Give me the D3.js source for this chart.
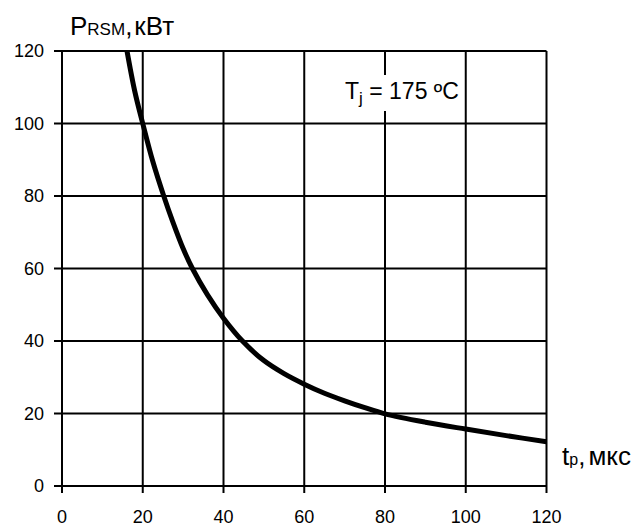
<!DOCTYPE html>
<html>
<head>
<meta charset="utf-8">
<script src="https://cdn.jsdelivr.net/npm/d3@7"></script>
<style>
  html, body { margin: 0; padding: 0; background: #fff; }
  svg text { font-family: "Liberation Sans", Arial, sans-serif; fill: #000; }
</style>
</head>
<body>
<svg id="chart" width="636" height="529"></svg>
<script>
// Data
const tpValues = [16.1, 18, 20, 22.5, 25.2, 27.4, 30, 32.3, 36, 40, 44.7, 50, 55, 60, 65, 70, 75, 80, 90, 100, 110, 120];
const pValues  = [120, 109, 100, 89.5, 80, 73, 65.5, 60, 52.8, 46.3, 40, 34.6, 31.0, 28.1, 25.6, 23.5, 21.6, 19.9, 17.6, 15.7, 13.9, 12.2];
const xTicks = [0, 20, 40, 60, 80, 100, 120];
const yTicks = [0, 20, 40, 60, 80, 100, 120];

const svg = d3.select("#chart");
const x = d3.scaleLinear().domain([0, 120]).range([62, 546.5]);
const y = d3.scaleLinear().domain([0, 120]).range([486, 51]);

// grid
const g = svg.append("g");
g.selectAll("line.v").data(xTicks).enter().append("line")
  .attr("x1", d => x(d)).attr("x2", d => x(d))
  .attr("y1", y(120)).attr("y2", y(0) + 7)
  .attr("stroke", "#000").attr("stroke-width", 2);
g.selectAll("line.h").data(yTicks).enter().append("line")
  .attr("x1", x(0) - 8).attr("x2", x(120))
  .attr("y1", d => y(d)).attr("y2", d => y(d))
  .attr("stroke", "#000").attr("stroke-width", 2);

// annotation with white box behind it (breaks gridlines)
const ann = svg.append("text").attr("x", 345).attr("y", 99).style("font-size", "23px");
ann.append("tspan").text("T");
ann.append("tspan").attr("dy", 5).style("font-size", "17px").text("j");
ann.append("tspan").attr("dy", -5).text(" = 175 ºC");
const bb = ann.node().getBBox();
svg.insert("rect", "text").attr("x", bb.x - 4).attr("y", bb.y - 3)
  .attr("width", bb.width + 8).attr("height", bb.height + 6).attr("fill", "#fff");

// axis labels
svg.append("g").selectAll("text").data(yTicks).enter().append("text")
  .attr("x", 44).attr("y", d => y(d)).attr("dy", "0.35em")
  .attr("text-anchor", "end").style("font-size", "18px").text(d => d);
svg.append("g").selectAll("text").data(xTicks).enter().append("text")
  .attr("x", d => x(d)).attr("y", 523)
  .attr("text-anchor", "middle").style("font-size", "18px").text(d => d);

// curve
const line = d3.line().x((d, i) => x(tpValues[i])).y(d => y(d)).curve(d3.curveCatmullRom.alpha(0.5));
svg.append("path").datum(pValues).attr("d", line)
  .attr("fill", "none").attr("stroke", "#000").attr("stroke-width", 5)
  .attr("stroke-linejoin", "round");

// titles
const yt = svg.append("text").attr("x", 70).attr("y", 35).style("font-size", "26px");
yt.append("tspan").text("P");
yt.append("tspan").style("font-size", "17px").text("RSM");
yt.append("tspan").text(",");
yt.append("tspan").attr("dx", 2).text("кВт");

const xt = svg.append("text").attr("x", 562).attr("y", 465).style("font-size", "26px");
xt.append("tspan").text("t");
xt.append("tspan").style("font-size", "16px").text("p");
xt.append("tspan").text(",");
xt.append("tspan").attr("dx", 3).text("мкс");
</script>
</body>
</html>
